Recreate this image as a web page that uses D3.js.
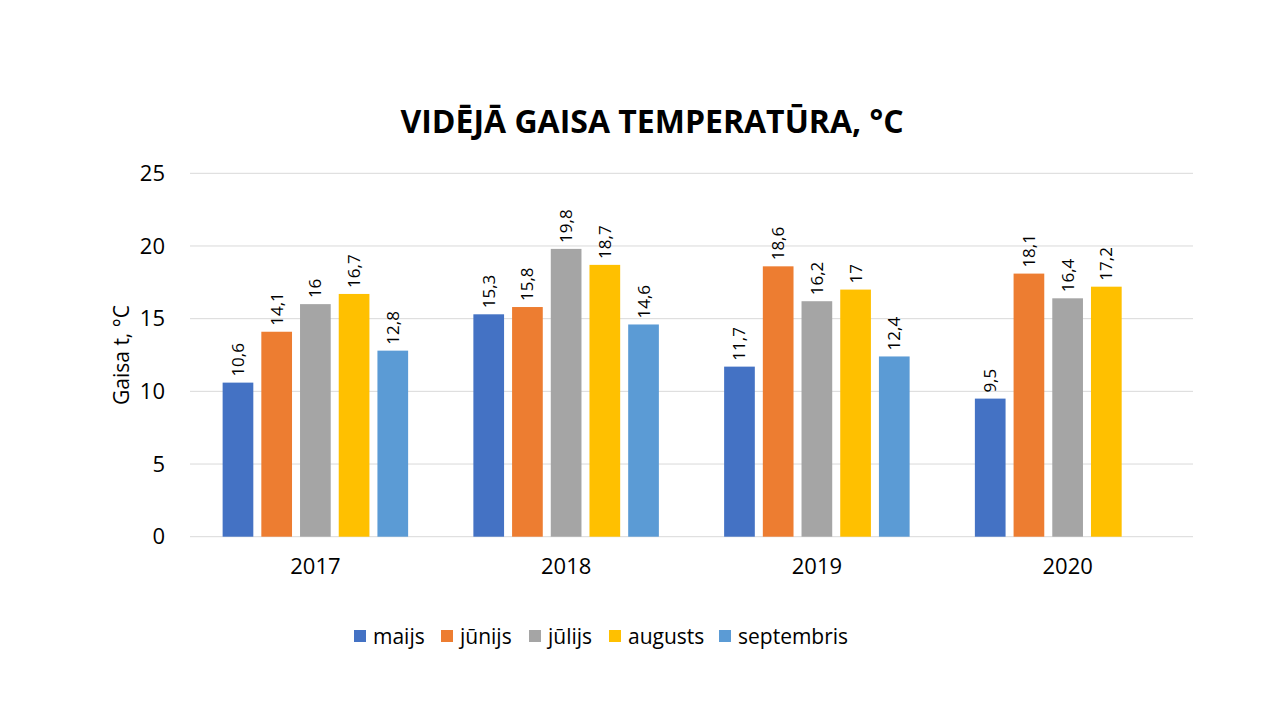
<!DOCTYPE html>
<html><head><meta charset="utf-8">
<script src="https://cdn.jsdelivr.net/npm/d3@7"></script>
<style>body{margin:0;background:#fff}svg{display:block;font-family:"Open Sans","Liberation Sans",sans-serif}</style>
</head><body><svg id="c" width="1280" height="720"></svg>
<script>
const years = ["2017","2018","2019","2020"];
const months = ["maijs","jūnijs","jūlijs","augusts","septembris"];
const colors = ["#4472C4","#ED7D31","#A5A5A5","#FFC000","#5B9BD5"];
const maijs = [10.6,15.3,11.7,9.5];
const junijs = [14.1,15.8,18.6,18.1];
const julijs = [16,19.8,16.2,16.4];
const augusts = [16.7,18.7,17,17.2];
const septembris = [12.8,14.6,12.4,null];
const yTicks = [0,5,10,15,20,25];
const seriesVals = [maijs,junijs,julijs,augusts,septembris];

(function(){
const svg = d3.select("#c");
const pLeft=190,pRight=1193,pTop=173.3,pBottom=536.7;
const x0 = d3.scaleBand().domain(years).range([pLeft,pRight]).padding(0);
const x1 = d3.scaleBand().domain(months).range([0,x0.bandwidth()]).paddingInner(0.207).paddingOuter(0.843);
const y = d3.scaleLinear().domain([0,25]).range([pBottom,pTop]);

svg.append("g").selectAll("line").data(yTicks).join("line")
 .attr("x1",pLeft).attr("x2",pRight).attr("y1",d=>y(d)).attr("y2",d=>y(d))
 .attr("stroke","#D9D9D9").attr("stroke-width",1);

const yAxis = d3.axisLeft(y).tickValues(yTicks).tickSize(0).tickPadding(25);
const ga = svg.append("g").attr("transform",`translate(${pLeft},0)`).call(yAxis);
ga.select(".domain").remove();
ga.selectAll("text").attr("font-size",22).attr("fill","#000").attr("font-family","'Open Sans',sans-serif");

const xa = svg.append("g").attr("transform",`translate(0,${pBottom})`).call(d3.axisBottom(x0).tickSize(0).tickPadding(22));
xa.select(".domain").remove();
xa.selectAll("text").attr("font-size",22).attr("fill","#000").attr("font-family","'Open Sans',sans-serif");

const data=[];
years.forEach((yr,i)=>months.forEach((m,j)=>{const v=seriesVals[j][i]; if(v!=null) data.push({yr,m,j,v});}));
svg.append("g").selectAll("rect").data(data).join("rect")
 .attr("x",d=>x0(d.yr)+x1(d.m)).attr("width",x1.bandwidth())
 .attr("y",d=>y(d.v)).attr("height",d=>y(0)-y(d.v)).attr("fill",d=>colors[d.j]);

svg.append("g").selectAll("text").data(data).join("text")
 .attr("transform",d=>`translate(${x0(d.yr)+x1(d.m)+x1.bandwidth()/2+6},${y(d.v)-6}) rotate(-90)`)
 .attr("font-size",17).attr("fill","#000")
 .text(d=>String(d.v).replace(".",","));

svg.append("text").attr("x",652).attr("y",133).attr("text-anchor","middle")
 .attr("font-size",32).attr("font-weight","bold").attr("fill","#000").text("VIDĒJĀ GAISA TEMPERATŪRA, °C");

svg.append("text").attr("transform",`translate(129,${(pTop+pBottom)/2}) rotate(-90)`).attr("text-anchor","middle")
 .attr("font-size",21).attr("fill","#000").text("Gaisa t, °C");

const legX=[354,441,529,609,719];
const lg = svg.append("g").selectAll("g").data(months).join("g").attr("transform",(d,i)=>`translate(${legX[i]},630)`);
lg.append("rect").attr("width",12).attr("height",12).attr("fill",(d,i)=>colors[i]);
lg.append("text").attr("x",19).attr("y",14).attr("font-size",21).attr("fill","#000").text(d=>d);
})();
</script></body></html>
